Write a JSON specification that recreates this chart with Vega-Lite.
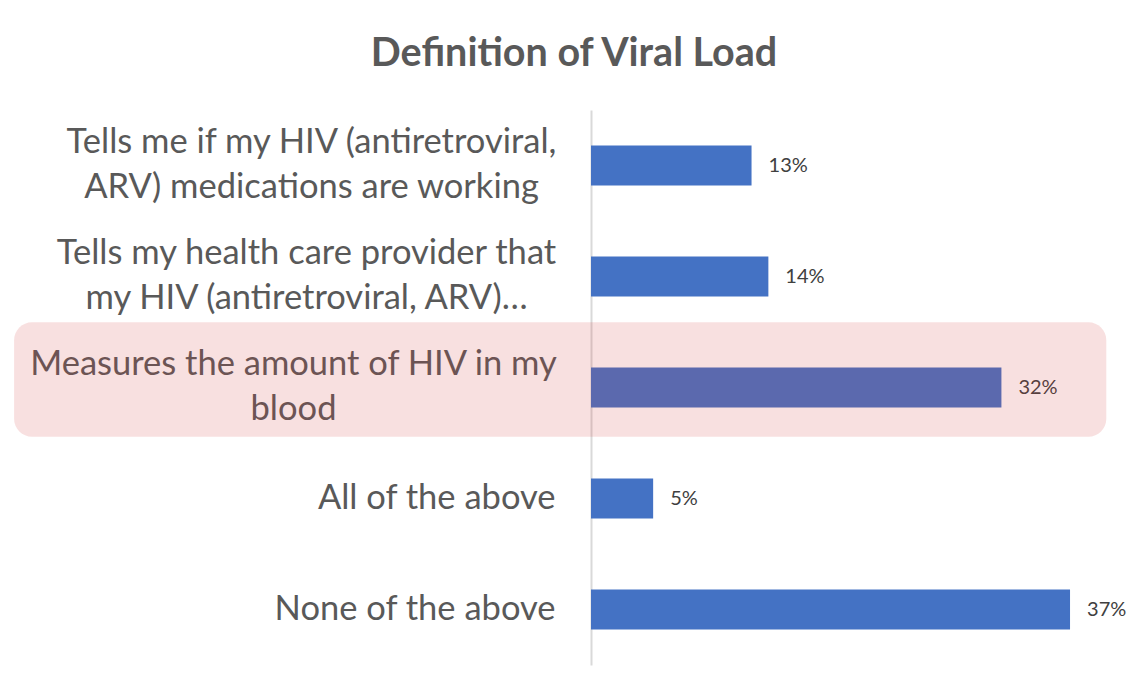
{
  "$schema": "https://vega.github.io/schema/vega-lite/v6.json",
  "autosize": "none",
  "width": 536,
  "height": 555,
  "padding": {"left": 591, "top": 110, "right": 0, "bottom": 25},
  "background": "white",
  "config": {"view": {"stroke": null}, "font": "Lato"},
  "title": {
    "text": "Definition of Viral Load",
    "font": "Lato",
    "fontSize": 39.5,
    "fontWeight": "bold",
    "color": "#595959",
    "anchor": "middle",
    "dx": -285,
    "offset": 36
  },
  "data": {
    "values": [
      {"answer": "Tells me if my HIV (antiretroviral,|ARV) medications are working", "share": 0.124, "label": "13%", "hx": null, "hx2": null},
      {"answer": "Tells my health care provider that|my HIV (antiretroviral, ARV)…", "share": 0.137, "label": "14%", "hx": null, "hx2": null},
      {"answer": "Measures the amount of HIV in my|blood", "share": 0.317, "label": "32%", "hx": -0.4456, "hx2": 0.398},
      {"answer": "All of the above", "share": 0.048, "label": "5%", "hx": null, "hx2": null},
      {"answer": "None of the above", "share": 0.37, "label": "37%", "hx": null, "hx2": null}
    ]
  },
  "encoding": {
    "y": {
      "field": "answer",
      "type": "nominal",
      "sort": null,
      "scale": {"paddingInner": 0.64, "paddingOuter": 0.32},
      "axis": {
        "title": null,
        "ticks": false,
        "domainColor": "#d9d9d9",
        "domainWidth": 2,
        "labelFont": "Lato",
        "labelFontSize": 34.5,
        "labelColor": "#595959",
        "labelLimit": 700,
        "labelLineHeight": 45,
        "labelAlign": {"condition": {"test": "indexof(datum.value, '|') >= 0", "value": "center"}, "value": "right"},
        "labelPadding": {
          "condition": [
            {"test": "indexof(datum.value, 'Tells me if') >= 0", "value": 280},
            {"test": "indexof(datum.value, 'Tells my health') >= 0", "value": 285},
            {"test": "indexof(datum.value, 'Measures') >= 0", "value": 298}
          ],
          "value": 36
        },
        "labelOffset": {"condition": {"test": "indexof(datum.value, '|') >= 0", "value": -22.5}, "value": 0},
        "labelExpr": "split(datum.label, '|')"
      }
    }
  },
  "layer": [
    {
      "mark": {"type": "bar", "color": "#4472C4"},
      "encoding": {
        "x": {"field": "share", "type": "quantitative", "scale": {"domain": [0, 0.414], "nice": false}, "axis": null}
      }
    },
    {
      "mark": {"type": "text", "align": "left", "dx": 17, "fontSize": 20, "color": "#404040", "font": "Lato"},
      "encoding": {
        "x": {"field": "share", "type": "quantitative"},
        "text": {"field": "label"}
      }
    },
    {
      "transform": [{"filter": "datum.hx != null"}],
      "mark": {"type": "rect", "color": "#d23c3c", "opacity": 0.16, "cornerRadius": 18, "clip": false, "yOffset": -8, "height": {"band": 2.87}},
      "encoding": {
        "x": {"field": "hx", "type": "quantitative"},
        "x2": {"field": "hx2"}
      }
    }
  ]
}
